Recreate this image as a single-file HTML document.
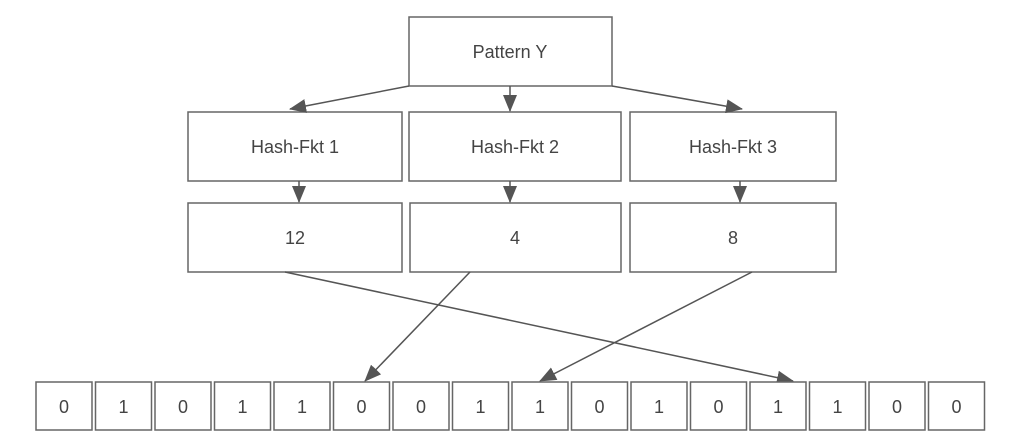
<html><body style="margin:0;background:#fff;width:1024px;height:445px;overflow:hidden;font-family:'Liberation Sans',sans-serif">
<svg width="1024" height="445" xmlns="http://www.w3.org/2000/svg">
<defs><marker id="a" markerWidth="10" markerHeight="10" refX="9" refY="5" orient="auto" markerUnits="userSpaceOnUse"><path d="M0,0 L10,5 L0,10 z" fill="#555"/></marker>
<marker id="b" markerWidth="18" markerHeight="14" refX="16" refY="7" orient="auto" markerUnits="userSpaceOnUse"><path d="M0,0 L17,7 L0,14 z" fill="#555"/></marker></defs>
<g fill="#fff" stroke="#666" stroke-width="1.5">
<rect x="409" y="17" width="203" height="69"/>
<rect x="188" y="112" width="214" height="69"/>
<rect x="409" y="112" width="212" height="69"/>
<rect x="630" y="112" width="206" height="69"/>
<rect x="188" y="203" width="214" height="69"/>
<rect x="410" y="203" width="211" height="69"/>
<rect x="630" y="203" width="206" height="69"/>
</g>
<g stroke="#555" stroke-width="1.5" fill="none" marker-end="url(#b)">
<line x1="409" y1="86" x2="290" y2="109"/>
<line x1="510" y1="86" x2="510" y2="111"/>
<line x1="612" y1="86" x2="742" y2="109"/>
<line x1="299" y1="181" x2="299" y2="202"/>
<line x1="510" y1="181" x2="510" y2="202"/>
<line x1="740" y1="181" x2="740" y2="202"/>
<line x1="285" y1="272" x2="793" y2="381"/>
<line x1="470" y1="272" x2="365" y2="381"/>
<line x1="752" y1="272" x2="540" y2="381"/>
</g>
<g font-size="18" fill="#444" text-anchor="middle">
<text x="510" y="58">Pattern Y</text>
<text x="295" y="153">Hash-Fkt 1</text>
<text x="515" y="153">Hash-Fkt 2</text>
<text x="733" y="153">Hash-Fkt 3</text>
<text x="295" y="244">12</text>
<text x="515" y="244">4</text>
<text x="733" y="244">8</text>
</g>
<g id="bits" font-size="18" fill="#444" text-anchor="middle"></g>
</svg>
<script>
var bits="0101100110101100",g=document.getElementById('bits'),ns="http://www.w3.org/2000/svg";
for(var i=0;i<16;i++){var x=36+i*59.5;var r=document.createElementNS(ns,'rect');r.setAttribute('x',x);r.setAttribute('y',382);r.setAttribute('width',56);r.setAttribute('height',48);r.setAttribute('fill','#fff');r.setAttribute('stroke','#666');r.setAttribute('stroke-width','1.5');g.appendChild(r);var t=document.createElementNS(ns,'text');t.setAttribute('x',x+28);t.setAttribute('y',413);t.textContent=bits[i];g.appendChild(t);}
</script>
</body></html>
